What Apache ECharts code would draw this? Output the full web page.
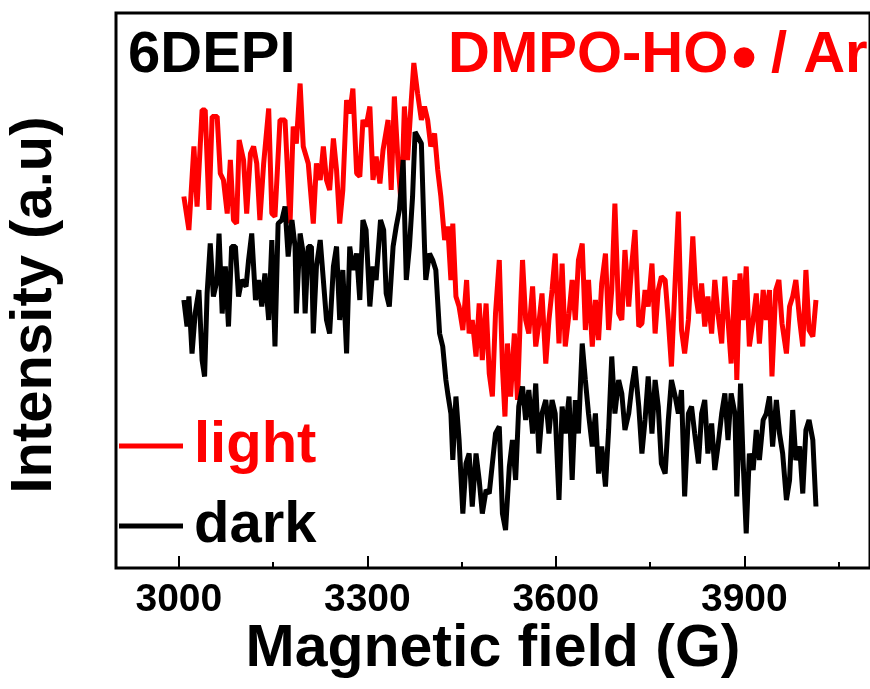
<!DOCTYPE html>
<html>
<head>
<meta charset="utf-8">
<script src="https://cdn.jsdelivr.net/npm/echarts@6/dist/echarts.min.js"></script>
<style>
html,body{margin:0;padding:0;background:#fff;}
#chart{width:870px;height:689px;}
</style>
</head>
<body>
<div id="chart"></div>
<script>
// Magnetic field (G) and intensity (a.u.)
const fieldLight = [3008,3016,3024,3029,3037,3042,3048,3053,3061,3066,3071,3077,3082,3087,3092,3096,3103,3108,3114,3119,3124,3129,3135,3143,3148,3153,3161,3169,3177,3182,3187,3193,3198,3206,3214,3219,3225,3230,3235,3240,3246,3251,3256,3261,3267,3272,3277,3283,3288,3293,3298,3304,3309,3314,3320,3325,3333,3338,3343,3349,3354,3359,3364,3370,3374,3380,3386,3391,3396,3401,3407,3412,3417,3423,3428,3433,3436,3441,3446,3452,3458,3462,3467,3473,3478,3483,3489,3494,3499,3504,3510,3515,3519,3523,3528,3534,3539,3544,3547,3552,3557,3563,3568,3573,3578,3584,3589,3594,3599,3605,3610,3615,3621,3626,3631,3636,3642,3647,3652,3658,3663,3668,3673,3679,3684,3689,3694,3700,3705,3710,3716,3721,3726,3732,3737,3742,3747,3753,3758,3763,3768,3774,3779,3784,3790,3795,3800,3805,3811,3818,3823,3827,3832,3837,3842,3848,3853,3858,3864,3869,3874,3879,3885,3888,3893,3898,3903,3908,3914,3919,3924,3930,3935,3940,3944,3950,3955,3960,3967,3972,3977,3982,3988,3993,3998,4003,4009,4014];
const light = [74.3,67.6,84.3,72.3,91.6,91.6,71.6,90.3,90.3,78.9,77.6,70.9,81.6,69.6,68.9,85.6,81.6,70.9,82.9,84.3,80.9,69.6,80.9,91.9,70.9,70.3,89.6,89.6,68.9,88.3,84.9,96.9,84.3,80.9,68.9,80.9,77.6,84.3,77.6,75.6,85.9,79.6,68.9,75.6,93.6,90.9,95.9,78.9,78.3,89.6,88.3,92.3,77.6,82.3,76.9,83.6,89.6,75.6,94.3,80.9,72.3,92.3,81.6,93.6,101,94.9,89.6,92.3,89.6,84.3,86.9,79.6,74.3,65.6,68.3,57.6,68.9,54.3,52.3,47.6,57.6,46.9,49.6,42.3,52.9,41.6,52.9,38.9,34.3,50.9,61.6,40.3,30.3,44.9,34.3,46.9,33.6,52.3,61.6,49.6,46.9,56.3,44.3,48.9,54.9,40.9,49.6,55.6,62.9,44.9,60.9,44.3,50.9,57.6,49.6,61.6,64.9,47.6,57.6,44.3,53.6,45.6,56.9,62.9,47.6,55.6,72.9,50.9,49.6,63.6,52.3,60.9,67.6,48.3,48.9,55.6,52.3,60.9,46.9,55.6,58.3,57.6,49.6,40.3,57.6,71.3,47.6,42.9,49.6,66.3,54.3,50.9,56.9,48.3,54.3,46.9,57.6,50.9,44.9,58.3,49.6,40.9,57.6,37.6,58.9,49.6,60.3,44.3,49.6,54.9,44.9,55.6,49.6,55.6,38.3,55.6,57.6,48.9,42.9,52.3,54.3,57.6,49.6,44.3,59.6,47.6,46.3,53.6];

const fieldDark = [3008,3013,3016,3021,3026,3032,3037,3041,3045,3050,3055,3061,3064,3069,3074,3079,3084,3090,3095,3100,3107,3111,3116,3122,3127,3132,3137,3143,3148,3153,3158,3164,3169,3174,3180,3185,3187,3193,3198,3201,3206,3211,3214,3219,3225,3230,3235,3240,3246,3251,3256,3261,3267,3272,3277,3283,3288,3293,3298,3304,3309,3314,3321,3326,3330,3335,3341,3346,3351,3357,3362,3367,3372,3376,3386,3391,3393,3399,3404,3409,3415,3420,3425,3428,3433,3436,3441,3446,3452,3457,3462,3467,3473,3478,3483,3489,3494,3499,3504,3510,3515,3520,3526,3531,3536,3541,3547,3552,3557,3563,3568,3573,3578,3584,3589,3594,3599,3605,3610,3615,3621,3626,3631,3636,3642,3647,3652,3658,3663,3668,3673,3679,3684,3689,3694,3700,3705,3710,3716,3721,3726,3732,3737,3742,3747,3753,3758,3763,3768,3774,3779,3784,3790,3795,3800,3805,3811,3816,3821,3827,3832,3837,3842,3848,3853,3858,3864,3869,3874,3879,3885,3888,3894,3898,3903,3908,3914,3919,3924,3930,3935,3940,3945,3951,3956,3961,3967,3972,3977,3982,3988,3993,3998,4003,4009,4014];
const dark = [53.6,48.3,54.3,42.9,50.9,55.6,41.6,38.3,54.9,64.9,54.3,57.6,66.9,50.9,60.3,48.3,64.3,64.3,54.3,57.6,56.3,61.6,66.9,53.6,57.6,52.3,58.9,49.6,65.6,44.3,68.9,69.6,72.3,62.3,69.6,64.3,50.9,66.9,62.9,50.9,64.3,64.3,46.9,60.3,65.6,57.6,49.6,46.9,60.3,64.3,49.6,59.6,42.9,64.3,59.6,62.9,53.6,69.6,67.6,52.3,60.3,57.6,69.6,67.6,54.9,52.3,64.3,68.3,71.6,81.6,57.6,64.3,74.3,87.2,84.9,64.3,57.6,62.9,61.6,59.6,46.9,44.3,37.6,34.9,30.9,21.6,34.3,25.6,10.9,20.9,22.9,12.3,22.9,17.6,10.9,15.6,14.9,20.9,26.9,28.3,10.9,7.6,20.3,25.6,17.6,32.3,36.3,29.6,35.6,26.9,36.9,22.9,30.9,33.6,26.9,33.6,30.9,13.6,32.3,26.9,34.3,17.6,33.6,26.9,44.9,37.6,30.9,24.3,30.9,18.9,24.3,16.3,27.6,42.3,30.9,37.6,34.9,27.6,30.9,36.3,40.3,32.3,22.9,29.6,38.3,26.9,37.6,32.3,20.9,18.9,29.6,37.6,34.3,30.9,35.6,14.3,30.9,32.3,26.9,20.9,30.9,33.6,22.9,28.9,19.6,24.3,30.9,34.9,25.6,34.9,30.9,14.3,36.9,21.6,6.9,22.9,19.6,27.6,21.6,29.6,30.9,34.3,24.3,33.6,26.9,22.9,13.6,17.6,31.6,21.6,24.3,14.9,27.6,29.6,25.6,12.3];

const majorTicks = [3000, 3300, 3600, 3900];
const minorTicks = [3150, 3450, 3750, 4050];
const seriesNames = ['light', 'dark'];
const seriesColors = ['#ff0000', '#000000'];

const FONT = '"Liberation Sans", Arial, Helvetica, sans-serif';
const chart = echarts.init(document.getElementById('chart'), null, {renderer: 'canvas'});

const gridBox = {left: 116, top: 13, width: 757, height: 555};

const legendBase = {
  orient: 'vertical', left: 119, padding: 0,
  icon: 'rect', itemWidth: 64, itemHeight: 5,
  textStyle: {fontSize: 58, fontWeight: 'bold', fontFamily: FONT, padding: [0, 0, 36, 6]}
};

const option = {
  animation: false,
  backgroundColor: '#ffffff',
  grid: [
    Object.assign({show: true, borderColor: '#000', borderWidth: 3, backgroundColor: 'transparent'}, gridBox),
    Object.assign({show: false}, gridBox)
  ],
  xAxis: [
    {
      type: 'value', gridIndex: 0, min: 2900, max: 4100,
      axisLine: {show: false},
      splitLine: {show: false},
      axisTick: {show: true, inside: true, length: 12, customValues: majorTicks, lineStyle: {color: '#000', width: 2}},
      axisLabel: {show: true, customValues: majorTicks, margin: 13, color: '#000', fontSize: 39, fontWeight: 'bold', fontFamily: FONT,
                  formatter: v => String(v)}
    },
    {
      type: 'value', gridIndex: 1, min: 2900, max: 4100,
      axisLine: {show: false},
      splitLine: {show: false},
      axisTick: {show: true, inside: true, length: 6, customValues: minorTicks, lineStyle: {color: '#000', width: 2}},
      axisLabel: {show: false, customValues: minorTicks}
    }
  ],
  yAxis: [
    {type: 'value', gridIndex: 0, min: 0, max: 111, show: true,
     axisLine: {show: false}, axisTick: {show: false}, axisLabel: {show: false}, splitLine: {show: false}},
    {type: 'value', gridIndex: 1, min: 0, max: 111, show: false}
  ],
  legend: [
    Object.assign({}, legendBase, {top: 417, data: [{name: seriesNames[0], textStyle: {color: seriesColors[0]}}]}),
    Object.assign({}, legendBase, {top: 497, data: [{name: seriesNames[1], textStyle: {color: seriesColors[1]}}]})
  ],
  series: [
    {name: seriesNames[0], type: 'line', xAxisIndex: 0, yAxisIndex: 0, showSymbol: false,
     color: seriesColors[0], lineStyle: {width: 5, color: seriesColors[0]},
     data: fieldLight.map((x, i) => [x, light[i]])},
    {name: seriesNames[1], type: 'line', xAxisIndex: 0, yAxisIndex: 0, showSymbol: false,
     color: seriesColors[1], lineStyle: {width: 5, color: seriesColors[1]},
     data: fieldDark.map((x, i) => [x, dark[i]])}
  ],
  graphic: [
    {type: 'text', left: 128, top: 27, style: {text: '6DEPI', font: 'bold 58px ' + FONT, fill: '#000'}},
    {type: 'text', left: 448, top: 27, style: {text: 'DMPO-HO', font: 'bold 58px ' + FONT, fill: '#ff0000'}},
    {type: 'text', x: 744, y: 61, style: {text: '\u2022', font: 'bold 72px ' + FONT, fill: '#ff0000', align: 'center', verticalAlign: 'middle'}},
    {type: 'text', left: 771, top: 27, style: {text: '/ Ar', font: 'bold 58px ' + FONT, fill: '#ff0000'}},
    {type: 'text', x: 35, y: 305, rotation: Math.PI / 2, style: {text: 'Intensity (a.u)', font: 'bold 58px ' + FONT, fill: '#000', align: 'center', verticalAlign: 'middle'}},
    {type: 'text', x: 493, y: 650, style: {text: 'Magnetic field (G)', font: 'bold 59px ' + FONT, fill: '#000', align: 'center', verticalAlign: 'middle'}}
  ]
};
chart.setOption(option);
</script>
</body>
</html>
